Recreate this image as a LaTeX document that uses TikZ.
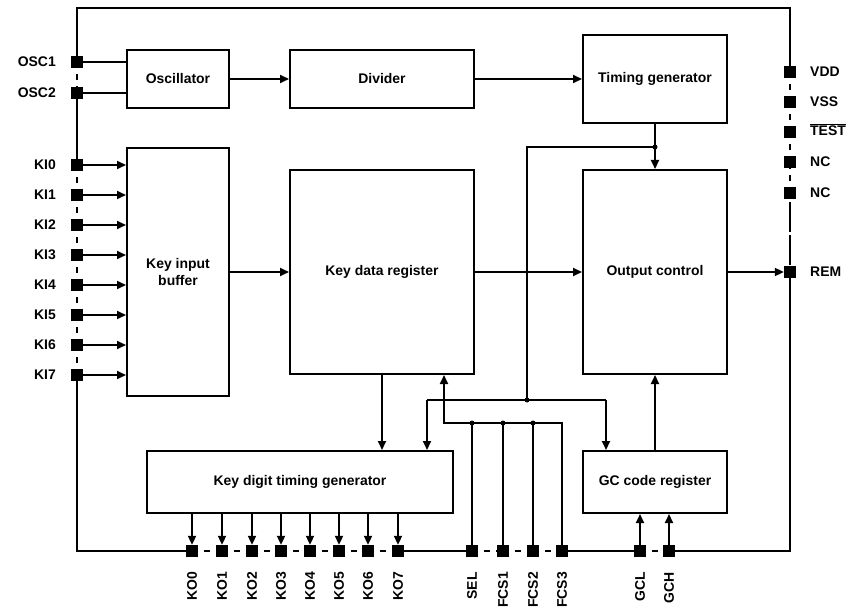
\documentclass[tikz,border=0pt]{standalone}
\usepackage{fontspec}
\setmainfont{Liberation Sans}
\usetikzlibrary{arrows.meta}

\begin{document}
\begin{tikzpicture}[x=1bp, y=-1bp,
    blockStyle/.style={rectangle, draw, line width=2bp, align=center, font=\bfseries\fontsize{14}{16.5}\selectfont},
    pinStyle/.style={rectangle, fill=black, minimum size=12bp, inner sep=0pt},
    pinLabel/.style={font=\bfseries\fontsize{14}{16}\selectfont, inner sep=1bp},
    wireStyle/.style={line width=2bp},
    arrowStyle/.style={line width=2bp, -{Triangle[length=9bp, width=8bp]}},
    gapStyle/.style={line width=2bp, dash pattern=on 6bp off 6bp, dash phase=6bp},
    longGapStyle/.style={line width=2bp, dash pattern=on 30bp off 3bp, dash phase=32bp},
    dotStyle/.style={circle, fill=black, inner sep=0pt, minimum size=5bp}]
    \useasboundingbox (0,0) rectangle (855,612);

    % blocks
    \node[blockStyle, minimum width=102bp, minimum height=58bp]  (osc)  at (178,79)  {Oscillator};
    \node[blockStyle, minimum width=184bp, minimum height=58bp]  (div)  at (382,79)  {Divider};
    \node[blockStyle, minimum width=144bp, minimum height=88bp]  (tgen) at (655,79)  {Timing generator};
    \node[blockStyle, minimum width=102bp, minimum height=248bp] (kib)  at (178,272) {Key input\\buffer};
    \node[blockStyle, minimum width=184bp, minimum height=204bp] (kdr)  at (382,272) {Key data register};
    \node[blockStyle, minimum width=144bp, minimum height=204bp] (outc) at (655,272) {Output control};
    \node[blockStyle, minimum width=306bp, minimum height=62bp]  (kdtg) at (300,482) {Key digit timing generator};
    \node[blockStyle, minimum width=144bp, minimum height=62bp]  (gcr)  at (655,482) {GC code register};

    % left pins
    \node[pinStyle] (osc1) at (77,62)  {};
    \node[pinStyle] (osc2) at (77,93)  {};
    \node[pinStyle] (ki0)  at (77,165) {};
    \node[pinStyle] (ki1)  at (77,195) {};
    \node[pinStyle] (ki2)  at (77,225) {};
    \node[pinStyle] (ki3)  at (77,255) {};
    \node[pinStyle] (ki4)  at (77,285) {};
    \node[pinStyle] (ki5)  at (77,315) {};
    \node[pinStyle] (ki6)  at (77,345) {};
    \node[pinStyle] (ki7)  at (77,375) {};

    \node[pinLabel, anchor=east] (osc1_T) at (57,62)  {OSC1};
    \node[pinLabel, anchor=east] (osc2_T) at (57,93)  {OSC2};
    \node[pinLabel, anchor=east] (ki0_T)  at (57,165) {KI0};
    \node[pinLabel, anchor=east] (ki1_T)  at (57,195) {KI1};
    \node[pinLabel, anchor=east] (ki2_T)  at (57,225) {KI2};
    \node[pinLabel, anchor=east] (ki3_T)  at (57,255) {KI3};
    \node[pinLabel, anchor=east] (ki4_T)  at (57,285) {KI4};
    \node[pinLabel, anchor=east] (ki5_T)  at (57,315) {KI5};
    \node[pinLabel, anchor=east] (ki6_T)  at (57,345) {KI6};
    \node[pinLabel, anchor=east] (ki7_T)  at (57,375) {KI7};

    % right pins
    \node[pinStyle] (vdd)  at (790,72)  {};
    \node[pinStyle] (vss)  at (790,102) {};
    \node[pinStyle] (test) at (790,132) {};
    \node[pinStyle] (nc1)  at (790,162) {};
    \node[pinStyle] (nc2)  at (790,193) {};
    \node[pinStyle] (rem)  at (790,272) {};

    \node[pinLabel, anchor=west] (vdd_T)  at (809,72)  {VDD};
    \node[pinLabel, anchor=west] (vss_T)  at (809,102) {VSS};
    \node[pinLabel, anchor=west] (test_T) at (809,130) {$\overline{\hbox{TEST}}$};
    \node[pinLabel, anchor=west] (nc1_T)  at (809,162) {NC};
    \node[pinLabel, anchor=west] (nc2_T)  at (809,193) {NC};
    \node[pinLabel, anchor=west] (rem_T)  at (809,272) {REM};

    % bottom pins
    \node[pinStyle] (ko0)  at (192,551) {};
    \node[pinStyle] (ko1)  at (222,551) {};
    \node[pinStyle] (ko2)  at (252,551) {};
    \node[pinStyle] (ko3)  at (281,551) {};
    \node[pinStyle] (ko4)  at (310,551) {};
    \node[pinStyle] (ko5)  at (339,551) {};
    \node[pinStyle] (ko6)  at (368,551) {};
    \node[pinStyle] (ko7)  at (398,551) {};
    \node[pinStyle] (sel)  at (472,551) {};
    \node[pinStyle] (fcs1) at (503,551) {};
    \node[pinStyle] (fcs2) at (533,551) {};
    \node[pinStyle] (fcs3) at (562,551) {};
    \node[pinStyle] (gcl)  at (640,551) {};
    \node[pinStyle] (gch)  at (669,551) {};

    \node[pinLabel, rotate=90, anchor=east] (ko0_T)  at (192,571) {KO0};
    \node[pinLabel, rotate=90, anchor=east] (ko1_T)  at (222,571) {KO1};
    \node[pinLabel, rotate=90, anchor=east] (ko2_T)  at (252,571) {KO2};
    \node[pinLabel, rotate=90, anchor=east] (ko3_T)  at (281,571) {KO3};
    \node[pinLabel, rotate=90, anchor=east] (ko4_T)  at (310,571) {KO4};
    \node[pinLabel, rotate=90, anchor=east] (ko5_T)  at (339,571) {KO5};
    \node[pinLabel, rotate=90, anchor=east] (ko6_T)  at (368,571) {KO6};
    \node[pinLabel, rotate=90, anchor=east] (ko7_T)  at (398,571) {KO7};
    \node[pinLabel, rotate=90, anchor=east] (sel_T)  at (472,571) {SEL};
    \node[pinLabel, rotate=90, anchor=east] (fcs1_T) at (503,571) {FCS1};
    \node[pinLabel, rotate=90, anchor=east] (fcs2_T) at (533,571) {FCS2};
    \node[pinLabel, rotate=90, anchor=east] (fcs3_T) at (562,571) {FCS3};
    \node[pinLabel, rotate=90, anchor=east] (gcl_T)  at (640,571) {GCL};
    \node[pinLabel, rotate=90, anchor=east] (gch_T)  at (669,571) {GCH};

    % frame corners and wiring points
    \coordinate (cornerTL) at (77,8);
    \coordinate (cornerTR) at (790,8);
    \coordinate (cornerBL) at (77,551);
    \coordinate (cornerBR) at (790,551);
    \coordinate (tapTG)  at (655,147);
    \coordinate (bendA)  at (527,147);
    \coordinate (tapB)   at (527,400);
    \coordinate (splitL) at (427,400);
    \coordinate (splitR) at (606,400);
    \coordinate (busL)   at (444,423);

    % frame
    \draw[wireStyle] (osc1.north) -- (cornerTL) -- (cornerTR) -- (vdd.north);
    \draw[gapStyle]  (osc1.south) -- (osc2.north);
    \draw[wireStyle] (osc2.south) -- (ki0.north);
    \draw[gapStyle]  (ki0.south) -- (ki1.north);
    \draw[gapStyle]  (ki1.south) -- (ki2.north);
    \draw[gapStyle]  (ki2.south) -- (ki3.north);
    \draw[gapStyle]  (ki3.south) -- (ki4.north);
    \draw[gapStyle]  (ki4.south) -- (ki5.north);
    \draw[gapStyle]  (ki5.south) -- (ki6.north);
    \draw[gapStyle]  (ki6.south) -- (ki7.north);
    \draw[wireStyle] (ki7.south) -- (cornerBL) -- (ko0.west);
    \draw[gapStyle]  (ko0.east) -- (ko1.west);
    \draw[gapStyle]  (ko1.east) -- (ko2.west);
    \draw[gapStyle]  (ko2.east) -- (ko3.west);
    \draw[gapStyle]  (ko3.east) -- (ko4.west);
    \draw[gapStyle]  (ko4.east) -- (ko5.west);
    \draw[gapStyle]  (ko5.east) -- (ko6.west);
    \draw[gapStyle]  (ko6.east) -- (ko7.west);
    \draw[wireStyle] (ko7.east) -- (sel.west);
    \draw[gapStyle]  (sel.east) -- (fcs1.west);
    \draw[gapStyle]  (fcs1.east) -- (fcs2.west);
    \draw[gapStyle]  (fcs2.east) -- (fcs3.west);
    \draw[wireStyle] (fcs3.east) -- (gcl.west);
    \draw[gapStyle]  (gcl.east) -- (gch.west);
    \draw[wireStyle] (gch.east) -- (cornerBR) -- (rem.south);
    \draw[longGapStyle] (rem.north) -- (nc2.south);
    \draw[gapStyle]  (nc2.north) -- (nc1.south);
    \draw[gapStyle]  (nc1.north) -- (test.south);
    \draw[gapStyle]  (test.north) -- (vss.south);
    \draw[gapStyle]  (vss.north) -- (vdd.south);

    % inputs
    \draw[wireStyle]  (osc1.east) -- (osc1.east -| osc.west);
    \draw[wireStyle]  (osc2.east) -- (osc2.east -| osc.west);
    \draw[arrowStyle] (ki0.east) -- (ki0.east -| kib.west);
    \draw[arrowStyle] (ki1.east) -- (ki1.east -| kib.west);
    \draw[arrowStyle] (ki2.east) -- (ki2.east -| kib.west);
    \draw[arrowStyle] (ki3.east) -- (ki3.east -| kib.west);
    \draw[arrowStyle] (ki4.east) -- (ki4.east -| kib.west);
    \draw[arrowStyle] (ki5.east) -- (ki5.east -| kib.west);
    \draw[arrowStyle] (ki6.east) -- (ki6.east -| kib.west);
    \draw[arrowStyle] (ki7.east) -- (ki7.east -| kib.west);

    % block to block
    \draw[arrowStyle] (osc.east) -- (div.west);
    \draw[arrowStyle] (div.east) -- (tgen.west);
    \draw[arrowStyle] (kib.east) -- (kdr.west);
    \draw[arrowStyle] (kdr.east) -- (outc.west);
    \draw[arrowStyle] (outc.east) -- (rem.west);
    \draw[arrowStyle] (tgen.south) -- (outc.north);
    \draw[arrowStyle] (gcr.north) -- (outc.south);
    \draw[arrowStyle] (kdr.south) -- (kdtg.north -| kdr.south);

    % timing tap
    \draw[wireStyle]  (tapTG) -- (bendA) -- (tapB);
    \draw[wireStyle]  (splitL) -- (splitR);
    \draw[arrowStyle] (splitL) -- (splitL |- kdtg.north);
    \draw[arrowStyle] (splitR) -- (splitR |- gcr.north);
    \node[dotStyle] (tapTG_D) at (tapTG) {};
    \node[dotStyle] (tapB_D)  at (tapB)  {};

    % select bus
    \draw[arrowStyle] (fcs3.north) |- (busL) -- (busL |- kdr.south);
    \draw[wireStyle]  (sel.north)  -- (sel.north |- busL);
    \draw[wireStyle]  (fcs1.north) -- (fcs1.north |- busL);
    \draw[wireStyle]  (fcs2.north) -- (fcs2.north |- busL);
    \node[dotStyle] (sel_D)  at (sel |- busL)  {};
    \node[dotStyle] (fcs1_D) at (fcs1 |- busL) {};
    \node[dotStyle] (fcs2_D) at (fcs2 |- busL) {};

    % outputs
    \draw[arrowStyle] (kdtg.south -| ko0) -- (ko0.north);
    \draw[arrowStyle] (kdtg.south -| ko1) -- (ko1.north);
    \draw[arrowStyle] (kdtg.south -| ko2) -- (ko2.north);
    \draw[arrowStyle] (kdtg.south -| ko3) -- (ko3.north);
    \draw[arrowStyle] (kdtg.south -| ko4) -- (ko4.north);
    \draw[arrowStyle] (kdtg.south -| ko5) -- (ko5.north);
    \draw[arrowStyle] (kdtg.south -| ko6) -- (ko6.north);
    \draw[arrowStyle] (kdtg.south -| ko7) -- (ko7.north);
    \draw[arrowStyle] (gcl.north) -- (gcl.north |- gcr.south);
    \draw[arrowStyle] (gch.north) -- (gch.north |- gcr.south);
\end{tikzpicture}
\end{document}
